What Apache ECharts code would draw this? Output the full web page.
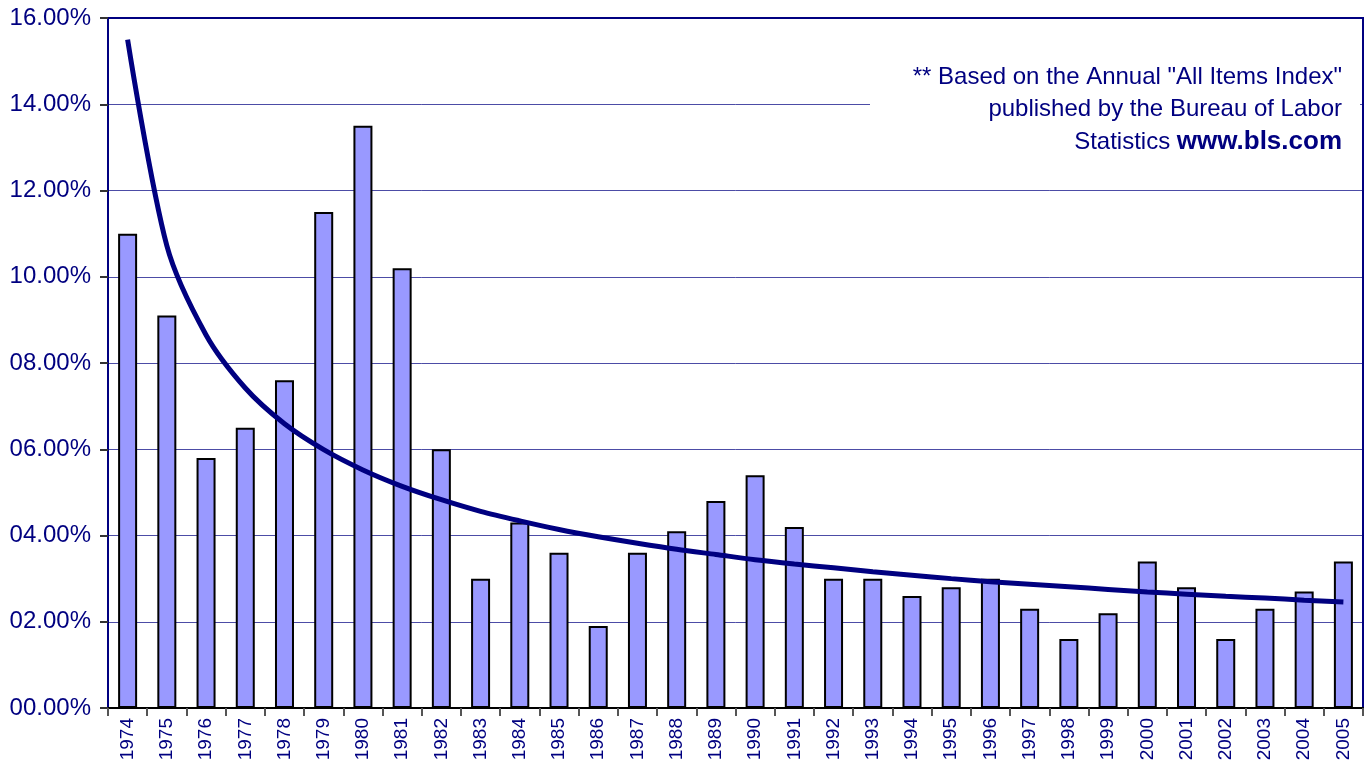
<!DOCTYPE html>
<html>
<head>
<meta charset="utf-8">
<script src="https://cdn.jsdelivr.net/npm/echarts@6/dist/echarts.min.js"></script>
<style>html,body{margin:0;padding:0;background:#fff}#c{width:1364px;height:772px}</style>
</head>
<body>
<div id="c"></div>
<script>
var years = ['1974','1975','1976','1977','1978','1979','1980','1981','1982','1983','1984','1985','1986','1987','1988','1989','1990','1991','1992','1993','1994','1995','1996','1997','1998','1999','2000','2001','2002','2003','2004','2005'];
var inflation = [11.0,9.1,5.8,6.5,7.6,11.5,13.5,10.2,6.0,3.0,4.3,3.6,1.9,3.6,4.1,4.8,5.4,4.2,3.0,3.0,2.6,2.8,3.0,2.3,1.6,2.2,3.4,2.8,1.6,2.3,2.7,3.4];
var trend = [15.5,10.72,8.65,7.42,6.59,5.99,5.52,5.14,4.83,4.56,4.34,4.14,3.97,3.82,3.68,3.56,3.44,3.34,3.25,3.16,3.08,3.00,2.93,2.87,2.81,2.75,2.69,2.64,2.59,2.55,2.50,2.46];
var yTicks = {min: 0, max: 16, interval: 2};
var noteLine1 = '** Based on the Annual "All Items Index"';
var noteLine2 = 'published by the Bureau of Labor';
var noteLine3a = 'Statistics ';
var noteLine3b = 'www.bls.com';

var navy = '#000080';
var chart = echarts.init(document.getElementById('c'), null, {renderer: 'canvas'});
chart.setOption({
  animation: false,
  backgroundColor: '#fff',
  grid: {left: 108, top: 18, right: 1, bottom: 64, show: true, borderColor: navy, borderWidth: 2, backgroundColor: 'transparent'},
  xAxis: {
    type: 'category',
    data: years,
    axisLine: {lineStyle: {color: '#000', width: 2}},
    axisTick: {show: true, length: 8, lineStyle: {color: '#555', width: 2}},
    axisLabel: {rotate: 90, color: navy, fontFamily: 'Liberation Sans, Arial', fontSize: 19, margin: 10},
    splitLine: {show: false}
  },
  yAxis: {
    type: 'value',
    min: yTicks.min, max: yTicks.max, interval: yTicks.interval,
    axisLine: {show: true, lineStyle: {color: navy, width: 2}},
    axisTick: {show: true, length: 8, lineStyle: {color: '#333', width: 2}},
    axisLabel: {color: navy, fontFamily: 'Liberation Sans, Arial', fontSize: 24, margin: 17,
      formatter: function (v) { return (v < 10 ? '0' : '') + v.toFixed(2) + '%'; }},
    splitLine: {show: true, lineStyle: {color: navy, width: 1, opacity: 0.7}}
  },
  series: [
    {
      type: 'bar',
      data: inflation,
      barWidth: 19,
      itemStyle: {color: '#9999FF', borderColor: '#000', borderWidth: 2},
      z: 2
    },
    {
      type: 'line',
      data: trend,
      smooth: 0.3,
      symbol: 'none',
      lineStyle: {color: navy, width: 5},
      z: 3
    }
  ],
  graphic: [
    {type: 'rect', left: 870, top: 56, shape: {width: 490, height: 112}, style: {fill: '#fff'}, z: 10},
    {type: 'text', x: 1342, y: 77, z: 11, style: {text: noteLine1, fill: navy, font: '24px "Liberation Sans", Arial', textAlign: 'right', textVerticalAlign: 'middle'}},
    {type: 'text', x: 1342, y: 109, z: 11, style: {text: noteLine2, fill: navy, font: '24px "Liberation Sans", Arial', textAlign: 'right', textVerticalAlign: 'middle'}},
    {type: 'text', x: 1342, y: 142, z: 11, style: {
      text: '{n|' + noteLine3a + '}{b|' + noteLine3b + '}', textAlign: 'right', textVerticalAlign: 'middle',
      rich: {
        n: {fill: navy, font: '24px "Liberation Sans", Arial'},
        b: {fill: navy, font: 'bold 26px "Liberation Sans", Arial'}
      }}}
  ]
});
</script>
</body>
</html>
